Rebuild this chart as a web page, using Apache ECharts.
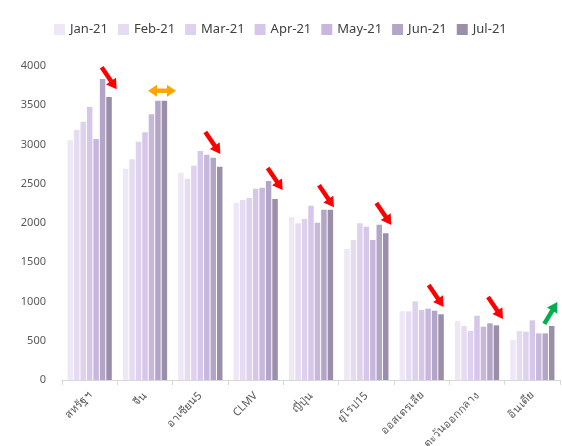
<!DOCTYPE html>
<html>
<head>
<meta charset="utf-8">
<script src="https://cdn.jsdelivr.net/npm/echarts@6/dist/echarts.min.js"></script>
<style>
  html, body { margin: 0; padding: 0; background: #fff; }
  #chart { width: 562px; height: 446px; }
</style>
</head>
<body>
<div id="chart"></div>
<script>
/* ปริมาณส่งออกรายเดือน แยกตามตลาด */

var categories = ['สหรัฐฯ', 'จีน', 'อาเซียน5', 'CLMV', 'ญี่ปุ่น', 'ยุโรป15', 'ออสเตรเลีย', 'ตะวันออกกลาง', 'อินเดีย'];
var months = ['Jan-21', 'Feb-21', 'Mar-21', 'Apr-21', 'May-21', 'Jun-21', 'Jul-21'];
var monthColors = ['#ede7f6', '#e5dcf2', '#ded1ee', '#d6c6ea', '#c7b8db', '#b3a5c7', '#9a8ea9'];

var jan21 = [3055, 2690, 2640, 2258, 2073, 1668, 875, 752, 510];
var feb21 = [3185, 2812, 2565, 2293, 1996, 1783, 875, 688, 624];
var mar21 = [3290, 3036, 2730, 2320, 2051, 1996, 1002, 624, 616];
var apr21 = [3478, 3155, 2917, 2435, 2221, 1953, 892, 819, 760];
var may21 = [3070, 3385, 2870, 2448, 2004, 1783, 909, 679, 594];
var jun21 = [3835, 3556, 2832, 2535, 2170, 1978, 883, 722, 594];
var jul21 = [3605, 3556, 2718, 2306, 2170, 1868, 837, 696, 688];
var seriesValues = [jan21, feb21, mar21, apr21, may21, jun21, jul21];

var yTicks = { min: 0, max: 4000, interval: 500 };

// ลูกศรแนวโน้ม: [หมวด, ค่าที่ปลายลูกศร, ระยะเลื่อนแนวนอน(px), ชนิด]
var arrowMarks = [
    [0, 3703, 27, 'down'],
    [1, 3685, 17, 'flat'],
    [2, 2879, 20, 'down'],
    [3, 2420, 27, 'down'],
    [4, 2200, 23, 'down'],
    [5, 1975, 25, 'down'],
    [6, 930, 22, 'down'],
    [7, 777, 26, 'down'],
    [8, 994, 25, 'up']
];

var chart = echarts.init(document.getElementById('chart'));

var series = [];
for (var i = 0; i < months.length; i++) {
    series.push({
        name: months[i],
        type: 'bar',
        data: seriesValues[i],
        barGap: '18%',
        barCategoryGap: '20%',
        itemStyle: { color: monthColors[i] },
        emphasis: { disabled: true }
    });
}

var option = {
    animation: false,
    textStyle: { fontFamily: '"Noto Sans", "DejaVu Sans", sans-serif' },
    legend: {
        top: 18,
        left: 49,
        itemWidth: 11,
        itemHeight: 11,
        itemGap: 10,
        icon: 'rect',
        textStyle: { fontSize: 13, color: '#404040' },
        data: months
    },
    grid: {
        left: 62,
        right: 2,
        top: 66,
        bottom: 66,
        containLabel: false,
        outerBoundsMode: 'none'
    },
    xAxis: {
        type: 'category',
        data: categories,
        axisLine: { lineStyle: { color: '#d9d9d9' } },
        axisTick: { show: true, length: 5, lineStyle: { color: '#d9d9d9' } },
        axisLabel: { rotate: 45, color: '#595959', fontSize: 11, margin: 14, interval: 0 }
    },
    yAxis: {
        type: 'value',
        min: yTicks.min,
        max: yTicks.max,
        interval: yTicks.interval,
        axisLine: { show: false },
        axisTick: { show: false },
        splitLine: { show: false },
        axisLabel: {
            color: '#595959',
            fontSize: 11,
            margin: 16,
            formatter: function (v) { return String(v); }
        }
    },
    series: series
};

chart.setOption(option);

// วาดลูกศรจากพิกัดข้อมูล
function arrowPoints(tail, tip, shaft, head, headLen) {
    var dx = tip[0] - tail[0], dy = tip[1] - tail[1];
    var len = Math.sqrt(dx * dx + dy * dy);
    var ux = dx / len, uy = dy / len;
    var nx = -uy, ny = ux;
    var bx = tip[0] - ux * headLen, by = tip[1] - uy * headLen;
    return [
        [tail[0] + nx * shaft / 2, tail[1] + ny * shaft / 2],
        [bx + nx * shaft / 2, by + ny * shaft / 2],
        [bx + nx * head / 2, by + ny * head / 2],
        tip,
        [bx - nx * head / 2, by - ny * head / 2],
        [bx - nx * shaft / 2, by - ny * shaft / 2],
        [tail[0] - nx * shaft / 2, tail[1] - ny * shaft / 2]
    ];
}

var graphics = [];
arrowMarks.forEach(function (a) {
    var p = chart.convertToPixel({ gridIndex: 0 }, [a[0], a[1]]);
    var x = p[0] + a[2], y = p[1];
    var pts, color;
    if (a[3] === 'down') {
        color = '#ff0000';
        pts = arrowPoints([x - 15, y - 22], [x, y], 4.5, 12, 10);
    } else if (a[3] === 'up') {
        color = '#00b050';
        pts = arrowPoints([x - 13, y + 22], [x, y], 4.5, 12, 10);
    } else {
        color = '#ffa500';
        var l = x - 14, r = x + 14, hl = 9, hw = 6, sw = 2.2;
        pts = [[l, y], [l + hl, y - hw], [l + hl, y - sw], [r - hl, y - sw], [r - hl, y - hw], [r, y],
               [r - hl, y + hw], [r - hl, y + sw], [l + hl, y + sw], [l + hl, y + hw]];
    }
    graphics.push({
        type: 'polygon',
        shape: { points: pts },
        style: { fill: color },
        z: 100
    });
});

chart.setOption({ graphic: graphics });
</script>
</body>
</html>
